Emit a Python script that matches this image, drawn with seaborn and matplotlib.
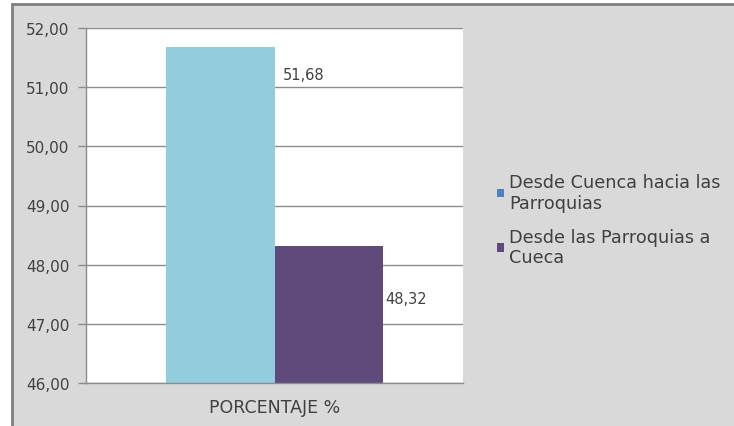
import matplotlib
matplotlib.use("Agg")
import matplotlib.pyplot as plt
from matplotlib.patches import Rectangle, Patch
from matplotlib.ticker import FuncFormatter, FixedLocator
import seaborn as sns
import pandas as pd

categories = ["PORCENTAJE %"]
series = ["Desde Cuenca hacia las\nParroquias", "Desde las Parroquias a\nCueca"]
values = [51.68, 48.32]
y_ticks = [46, 47, 48, 49, 50, 51, 52]

bar_colors = ["#93CDDD", "#604A7B"]
legend_colors = ["#4F81BD", "#604A7B"]
grey = "#8C8C8C"
text_color = "#404040"

sns.set_theme(style="white")
plt.rcParams["font.family"] = ["DejaVu Sans"]

df = pd.DataFrame({
    "categoria": categories * len(series),
    "serie": series,
    "valor": values,
})

fig = plt.figure(figsize=(7.34, 4.27), dpi=100)
fig.patch.set_facecolor("white")

# chart area frame
W, H = 734, 427
frame = Rectangle((12 / W, -0.05), 1.1, (H - 5) / H + 0.05,
                  transform=fig.transFigure, facecolor="#D9D9D9",
                  edgecolor="#7F7F7F", linewidth=2, zorder=-10)
fig.patches.append(frame)

ax = fig.add_axes([86 / W, 43 / H, 377 / W, 355 / H])
ax.set_zorder(1)
ax.set_facecolor("white")

sns.barplot(data=df, x="categoria", y="valor", hue="serie", hue_order=series,
            palette=bar_colors, width=0.573, saturation=1, legend=False,
            linewidth=0, ax=ax)

ax.set_xlim(-0.5, 0.5)
ax.set_ylim(46, 52)
ax.set_yticks(y_ticks)
ax.yaxis.set_major_formatter(FuncFormatter(lambda v, p: f"{v:.2f}".replace(".", ",")))
ax.grid(axis="y", color=grey, linewidth=1)
ax.set_axisbelow(True)

ax.set_xticks([-0.5, 0.5])
ax.set_xticklabels(["", ""])
ax.xaxis.set_minor_locator(FixedLocator([0]))
ax.set_xticklabels(categories, minor=True)
ax.tick_params(axis="x", which="minor", length=0, pad=11, labelsize=12.5, labelcolor=text_color)
ax.tick_params(axis="x", which="major", length=6, width=1, color=grey, direction="out")
ax.tick_params(axis="y", length=6, width=1, color=grey, direction="out", pad=6,
               labelsize=11, labelcolor=text_color, left=True)
ax.set_xlabel("")
ax.set_ylabel("")

for s in ["top", "right"]:
    ax.spines[s].set_visible(False)
for s in ["left", "bottom"]:
    ax.spines[s].set_color(grey)
    ax.spines[s].set_linewidth(1)

# value labels beside each bar
offsets = [(6, -19.5), (2, -38)]
for patch, v, off in zip(ax.patches, values, offsets):
    ax.annotate(f"{v:.2f}".replace(".", ","),
                xy=(patch.get_x() + patch.get_width(), patch.get_height()),
                xytext=off, textcoords="offset points", ha="left", va="center",
                fontsize=10.5, color=text_color)

handles = [Patch(facecolor=c, edgecolor="none") for c in legend_colors]
leg = fig.legend(handles, series, loc="upper left",
                 bbox_to_anchor=(481 / W, 1 - 158 / H), frameon=False,
                 fontsize=12.7, handlelength=0.4, handleheight=0.4,
                 handletextpad=0.3, labelspacing=0.9, labelcolor=text_color)

fig.savefig("out.png", dpi=100)
